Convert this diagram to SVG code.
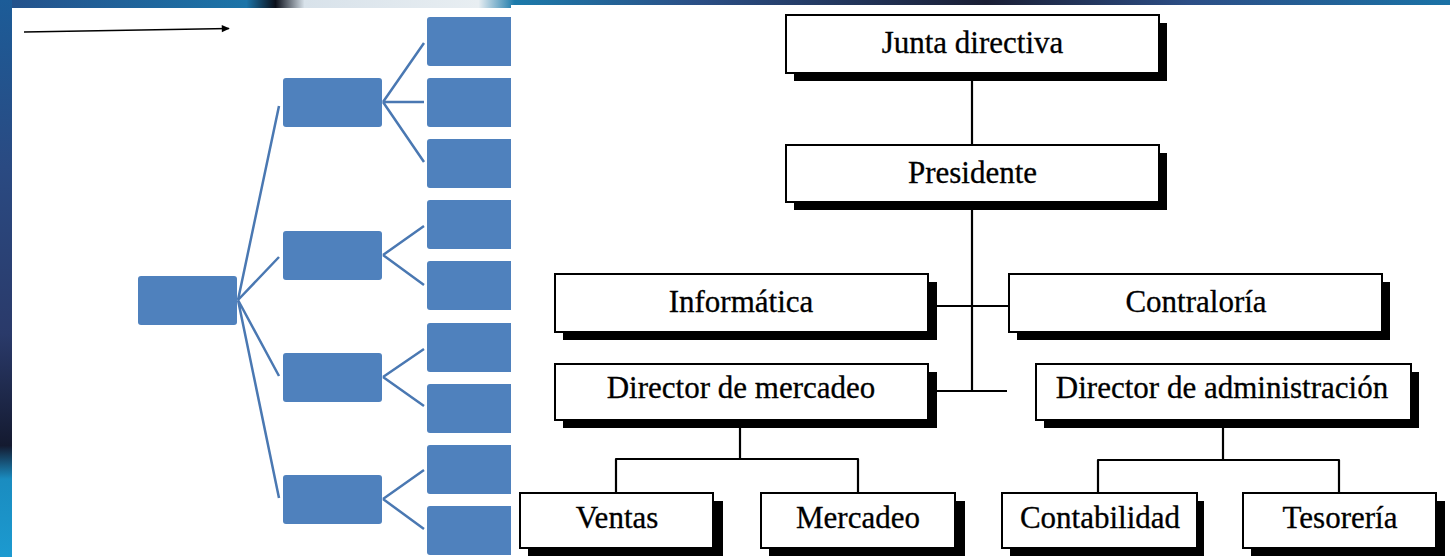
<svg xmlns="http://www.w3.org/2000/svg" width="1450" height="557" viewBox="0 0 1450 557">
  <defs>
    <linearGradient id="topg" x1="0" y1="0" x2="1" y2="0">
      <stop offset="0" stop-color="#24508a"/>
      <stop offset="0.17" stop-color="#1c74a8"/>
      <stop offset="0.19" stop-color="#0a0f1a"/>
      <stop offset="0.21" stop-color="#d8e2ea"/>
      <stop offset="0.33" stop-color="#e8eef2"/>
      <stop offset="0.355" stop-color="#1c7aaa"/>
      <stop offset="0.48" stop-color="#2b4f86"/>
      <stop offset="0.68" stop-color="#1a1e34"/>
      <stop offset="0.82" stop-color="#2c4e86"/>
      <stop offset="1" stop-color="#1a72a6"/>
    </linearGradient>
    <linearGradient id="leftg" x1="0" y1="0" x2="0" y2="1">
      <stop offset="0" stop-color="#1c5c98"/>
      <stop offset="0.3" stop-color="#2a4a82"/>
      <stop offset="0.6" stop-color="#2a3a6a"/>
      <stop offset="0.8" stop-color="#141a30"/>
      <stop offset="0.86" stop-color="#1a8cc0"/>
      <stop offset="1" stop-color="#1c9ad0"/>
    </linearGradient>
    <marker id="arr" viewBox="0 0 10 10" refX="9" refY="5" markerWidth="10" markerHeight="8" orient="auto" markerUnits="userSpaceOnUse">
      <path d="M0,0.5 L10,5 L0,9.5 z" fill="#000"/>
    </marker>
    <style>
      .bb { fill: #4F81BD; }
      .bl { stroke: #4A78B2; stroke-width: 2.5; fill: none; }
      .box { fill: #fff; stroke: #000; stroke-width: 2; }
      .sh { fill: #000; }
      .lbl { font-family: "Liberation Serif", "Times New Roman", serif; font-size: 31px; fill: #000; text-anchor: middle; stroke: #000; stroke-width: 0.3; }
      .con { stroke: #000; stroke-width: 2.2; fill: none; stroke-linejoin: round; }
    </style>
  </defs>

  <!-- background -->
  <rect x="0" y="0" width="1450" height="557" fill="url(#topg)"/>
  <rect x="0" y="0" width="12" height="557" fill="url(#leftg)"/>

  <!-- left panel -->
  <rect x="12" y="8" width="500" height="549" fill="#fff"/>
  <line x1="24" y1="32" x2="229" y2="28.5" stroke="#000" stroke-width="1.6" marker-end="url(#arr)"/>

  <g id="tree-connectors">
    <path class="bl" d="M238,300 L279,106 M238,300 L279,257 M238,300 L279,376 M238,300 L279,498"/>
    <path class="bl" d="M383,102 L424,43 M383,102 L424,102 M383,102 L424,162"/>
    <path class="bl" d="M383,255 L424,226 M383,255 L424,285"/>
    <path class="bl" d="M383,377 L424,349 M383,377 L424,406"/>
    <path class="bl" d="M383,499 L424,470 M383,499 L424,529"/>
  </g>
  <g id="t-root"><rect class="bb" x="138" y="276" width="99" height="49" rx="3"/></g>
  <g id="t-a"><rect class="bb" x="283" y="78" width="99" height="49" rx="3"/></g>
  <g id="t-b"><rect class="bb" x="283" y="231" width="99" height="49" rx="3"/></g>
  <g id="t-c"><rect class="bb" x="283" y="353" width="99" height="49" rx="3"/></g>
  <g id="t-d"><rect class="bb" x="283" y="475" width="99" height="49" rx="3"/></g>
  <g id="t-l1"><rect class="bb" x="427" y="17" width="90" height="49" rx="3"/></g>
  <g id="t-l2"><rect class="bb" x="427" y="78" width="90" height="49" rx="3"/></g>
  <g id="t-l3"><rect class="bb" x="427" y="139" width="90" height="49" rx="3"/></g>
  <g id="t-l4"><rect class="bb" x="427" y="200" width="90" height="49" rx="3"/></g>
  <g id="t-l5"><rect class="bb" x="427" y="261" width="90" height="49" rx="3"/></g>
  <g id="t-l6"><rect class="bb" x="427" y="323" width="90" height="49" rx="3"/></g>
  <g id="t-l7"><rect class="bb" x="427" y="384" width="90" height="49" rx="3"/></g>
  <g id="t-l8"><rect class="bb" x="427" y="445" width="90" height="49" rx="3"/></g>
  <g id="t-l9"><rect class="bb" x="427" y="506" width="90" height="49" rx="3"/></g>

  <!-- right panel -->
  <rect x="511" y="5" width="939" height="552" fill="#fff"/>

  <g id="connectors">
    <line class="con" x1="972" y1="74" x2="972" y2="144"/>
    <line class="con" x1="972" y1="203" x2="972" y2="391"/>
    <line class="con" x1="937" y1="306" x2="1008" y2="306"/>
    <line class="con" x1="937" y1="391" x2="1007" y2="391"/>
    <line class="con" x1="740" y1="428" x2="740" y2="459"/>
    <polyline class="con" points="616,492 616,459 858,459 858,492"/>
    <line class="con" x1="1223" y1="428" x2="1223" y2="460"/>
    <polyline class="con" points="1098,492 1098,460 1339,460 1339,492"/>
  </g>

  <g id="junta">
    <rect class="sh" x="794" y="23" width="373" height="58"/>
    <rect class="box" x="786" y="15" width="373" height="58"/>
    <text class="lbl" x="972.5" y="53">Junta directiva</text>
  </g>
  <g id="presidente">
    <rect class="sh" x="794" y="153" width="373" height="57"/>
    <rect class="box" x="786" y="145" width="373" height="57"/>
    <text class="lbl" x="972.5" y="183">Presidente</text>
  </g>
  <g id="informatica">
    <rect class="sh" x="563" y="282" width="374" height="58"/>
    <rect class="box" x="555" y="274" width="373" height="58"/>
    <text class="lbl" x="741" y="312">Informática</text>
  </g>
  <g id="contraloria">
    <rect class="sh" x="1017" y="282" width="373" height="58"/>
    <rect class="box" x="1009" y="274" width="373" height="58"/>
    <text class="lbl" x="1196" y="312">Contraloría</text>
  </g>
  <g id="dir-mercadeo">
    <rect class="sh" x="563" y="372" width="374" height="56"/>
    <rect class="box" x="555" y="364" width="373" height="56"/>
    <text class="lbl" x="741" y="398">Director de mercadeo</text>
  </g>
  <g id="dir-administracion">
    <rect class="sh" x="1044" y="372" width="375" height="56"/>
    <rect class="box" x="1036" y="364" width="375" height="56"/>
    <text class="lbl" x="1222" y="398">Director de administración</text>
  </g>
  <g id="ventas">
    <rect class="sh" x="528" y="501" width="195" height="55"/>
    <rect class="box" x="520" y="493" width="193" height="55"/>
    <text class="lbl" x="617" y="528">Ventas</text>
  </g>
  <g id="mercadeo">
    <rect class="sh" x="769" y="501" width="196" height="55"/>
    <rect class="box" x="761" y="493" width="194" height="55"/>
    <text class="lbl" x="858" y="528">Mercadeo</text>
  </g>
  <g id="contabilidad">
    <rect class="sh" x="1010" y="501" width="194" height="55"/>
    <rect class="box" x="1002" y="493" width="195" height="55"/>
    <text class="lbl" x="1100" y="528">Contabilidad</text>
  </g>
  <g id="tesoreria">
    <rect class="sh" x="1251" y="501" width="194" height="55"/>
    <rect class="box" x="1243" y="493" width="193" height="55"/>
    <text class="lbl" x="1340" y="528">Tesorería</text>
  </g>
</svg>
